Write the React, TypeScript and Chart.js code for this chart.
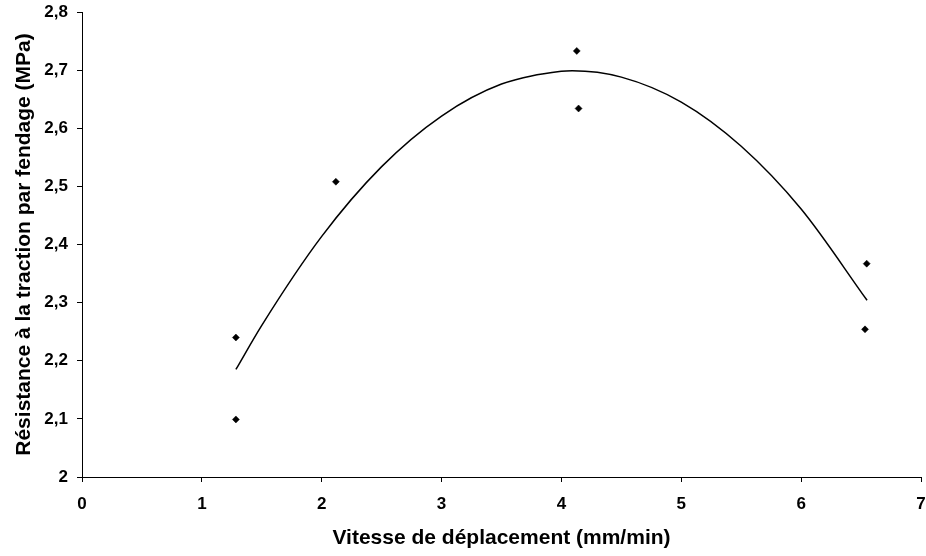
import React, { useEffect, useRef } from "react";
import { Chart, registerables } from "chart.js";

Chart.register(...registerables);

// Measured points (speed in mm/min, splitting tensile strength in MPa)
const speedX = [1.284, 1.284, 2.118, 4.128, 4.143, 6.547, 6.533];
const resistance = [2.24, 2.099, 2.508, 2.733, 2.634, 2.367, 2.254];

// Trend curve
const trendX = [1.284, 1.5, 2, 2.5, 3, 3.5, 4, 4.09, 4.5, 5, 5.5, 6, 6.55];
const trendY = [2.185, 2.261, 2.414, 2.534, 2.621, 2.676, 2.698, 2.699, 2.688, 2.645, 2.569, 2.461, 2.304];

const yTickValues = [2, 2.1, 2.2, 2.3, 2.4, 2.5, 2.6, 2.7, 2.8];
const yTickLabels = ["2", "2,1", "2,2", "2,3", "2,4", "2,5", "2,6", "2,7", "2,8"];

const xTitle = "Vitesse de déplacement (mm/min)";
const yTitle = "Résistance à la traction par fendage (MPa)";

const FONT = "'Liberation Sans', Arial, sans-serif";

export default function App() {
  const ref = useRef<HTMLCanvasElement | null>(null);

  useEffect(() => {
    if (!ref.current) return;
    const chart = new Chart(ref.current, {
      type: "scatter",
      data: {
        datasets: [
          {
            label: "trend",
            data: trendX.map((x, i) => ({ x, y: trendY[i] })),
            showLine: true,
            borderColor: "#000",
            borderWidth: 1.5,
            pointRadius: 0,
            cubicInterpolationMode: "monotone",
            fill: false,
          },
          {
            label: "points",
            data: speedX.map((x, i) => ({ x, y: resistance[i] })),
            pointStyle: "rectRot",
            pointRadius: 3.5,
            backgroundColor: "#000",
            borderColor: "#000",
            borderWidth: 0.5,
            showLine: false,
          },
        ],
      },
      options: {
        animation: false,
        responsive: false,
        devicePixelRatio: 1,
        layout: { padding: { top: 12, right: 5, left: 0, bottom: 0 } },
        plugins: { legend: { display: false }, tooltip: { enabled: false } },
        scales: {
          x: {
            type: "linear",
            min: 0,
            max: 7,
            afterFit: (s: any) => {
              s.height = 79;
              s.paddingLeft = 0;
              s.paddingRight = 0;
            },
            ticks: {
              stepSize: 1,
              color: "#000",
              padding: 12,
              font: { family: FONT, size: 17, weight: "bold" },
            },
            grid: { drawOnChartArea: false, drawTicks: true, tickLength: 5, color: "#000" },
            border: { display: true, color: "#000", width: 1 },
            title: {
              display: true,
              text: xTitle,
              color: "#000",
              padding: { top: 0, bottom: 5 },
              font: { family: FONT, size: 21, weight: "bold" },
            },
          },
          y: {
            type: "linear",
            min: 2,
            max: 2.8,
            afterFit: (s: any) => {
              s.width = 82;
              s.paddingTop = 0;
              s.paddingBottom = 0;
            },
            afterBuildTicks: (s: any) => {
              s.ticks = yTickValues.map((v) => ({ value: v }));
            },
            ticks: {
              color: "#000",
              padding: 9,
              font: { family: FONT, size: 17, weight: "bold" },
              callback: (v: any) => {
                const idx = yTickValues.findIndex((t) => Math.abs(t - Number(v)) < 1e-6);
                return idx >= 0 ? yTickLabels[idx] : "";
              },
            },
            grid: { drawOnChartArea: false, drawTicks: true, tickLength: 5, color: "#000" },
            border: { display: true, color: "#000", width: 1 },
            title: {
              display: true,
              text: yTitle,
              color: "#000",
              padding: { top: 12, bottom: 0 },
              font: { family: FONT, size: 21, weight: "bold" },
            },
          },
        },
      },
    });
    return () => chart.destroy();
  }, []);

  return (
    <div style={{ position: "absolute", left: 0, top: 0, width: 926, height: 556, background: "#fff" }}>
      <canvas ref={ref} width={926} height={556} style={{ display: "block" }} />
    </div>
  );
}
